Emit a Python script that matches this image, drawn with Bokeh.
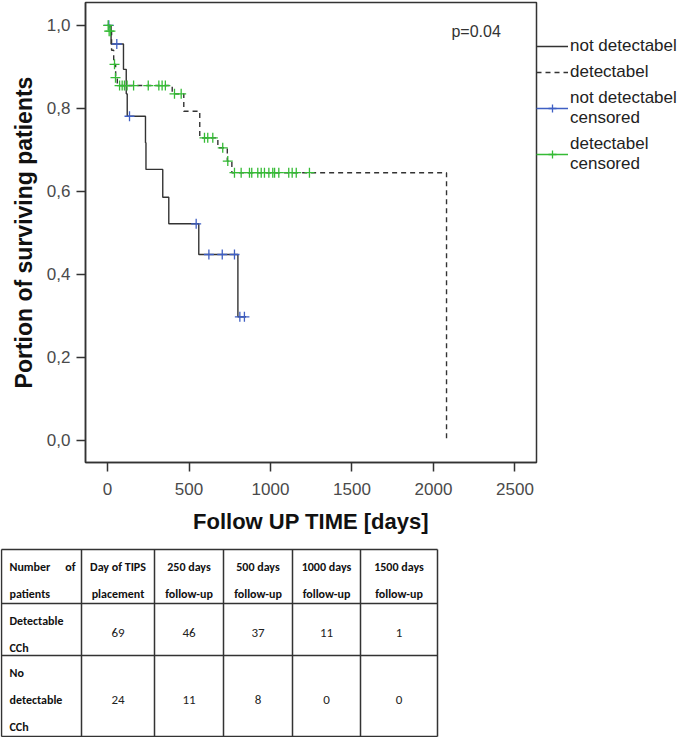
from bokeh.plotting import figure
from bokeh.models import (Range1d, FixedTicker, CustomJSTickFormatter, Legend,
                          LegendItem, Label)
from bokeh.embed import file_html
from bokeh.resources import INLINE
from bokeh.core.properties import value

# ---------------- data ----------------
# Kaplan-Meier, CCh not detectable (solid)
nd_time = [0, 22, 98, 115, 121, 233, 236, 339, 376, 560, 800, 850]
nd_surv = [1.0, 0.955, 0.894, 0.835, 0.781, 0.717, 0.653, 0.586, 0.522, 0.448, 0.298, 0.298]
nd_cens_time = [8, 57, 135, 544, 622, 704, 779, 812, 840]
nd_cens_surv = [1.0, 0.955, 0.781, 0.522, 0.448, 0.448, 0.448, 0.298, 0.298]

# Kaplan-Meier, CCh detectable (dashed)
d_time = [0, 15, 25, 38, 50, 60, 397, 468, 566, 677, 735, 763, 2080]
d_surv = [1.0, 0.986, 0.94, 0.906, 0.874, 0.855, 0.835, 0.793, 0.729, 0.705, 0.673, 0.645, 0.0]
d_cens_time = [4, 10, 18, 43, 49, 74, 90, 104, 120, 160, 250, 315, 335, 355,
               411, 452, 595, 615, 646, 707, 738,
               779, 820, 871, 885, 922, 943, 963, 990, 1014, 1025, 1051, 1112, 1133, 1158, 1239]
d_cens_surv = [1.0, 0.986, 0.986, 0.906, 0.874, 0.855, 0.855, 0.855, 0.855, 0.855, 0.855, 0.855, 0.855, 0.855,
               0.835, 0.835, 0.729, 0.729, 0.729, 0.705, 0.673,
               0.645, 0.645, 0.645, 0.645, 0.645, 0.645, 0.645, 0.645, 0.645, 0.645, 0.645, 0.645, 0.645, 0.645, 0.645]

x_ticks = [0, 500, 1000, 1500, 2000, 2500]
y_ticks = [0.0, 0.2, 0.4, 0.6, 0.8, 1.0]
p_value_text = "p=0.04"

legend_labels = ["not detectabel", "detectabel", "not detectabel\ncensored", "detectabel\ncensored"]

# table
table_header_1 = ["Number", "Day of TIPS", "250 days", "500 days", "1000 days", "1500 days"]
table_header_2 = ["patients", "placement", "follow-up", "follow-up", "follow-up", "follow-up"]
table_header_of = "of"
row1_label = ["Detectable", "CCh"]
row2_label = ["No", "detectable", "CCh"]
detectable_counts = [69, 46, 37, 11, 1]
no_detectable_counts = [24, 11, 8, 0, 0]

# ---------------- styles ----------------
FONT = "Liberation Sans, Arial, sans-serif"
TFONT = "Carlito, Lato, sans-serif"
BLUE = "#3f5fc4"
GREEN = "#35bb35"
DARK = "#333333"

FRAME_W, FRAME_H = 451, 460

# ---------------- KM plot ----------------
p = figure(frame_width=FRAME_W, frame_height=FRAME_H, output_backend="svg", toolbar_location=None,
           x_range=Range1d(-135, 2632), y_range=Range1d(-0.053, 1.055),
           min_border_left=85, min_border_right=148, min_border_top=2, min_border_bottom=80)
p.xgrid.visible = False
p.ygrid.visible = False
p.outline_line_color = DARK
p.outline_line_width = 1.5
p.background_fill_color = "white"
p.border_fill_color = "white"

for ax in (p.xaxis[0], p.yaxis[0]):
    ax.axis_line_color = DARK
    ax.axis_line_width = 1.5
    ax.major_tick_line_color = DARK
    ax.major_tick_line_width = 1.5
    ax.major_tick_out = 9
    ax.major_tick_in = 0
    ax.minor_tick_line_color = None
    ax.major_label_text_font = FONT
    ax.major_label_text_font_size = "17px"
    ax.major_label_text_color = "#4a4a4a"
    ax.axis_label_text_font = FONT
    ax.axis_label_text_font_style = "bold"
    ax.axis_label_text_color = "#111111"

p.xaxis.axis_label_text_font_size = "22px"
p.yaxis.axis_label_text_font_size = "23px"
p.xaxis.ticker = FixedTicker(ticks=x_ticks)
p.yaxis.ticker = FixedTicker(ticks=y_ticks)
p.yaxis.formatter = CustomJSTickFormatter(code="return tick.toFixed(1).replace('.', ',');")
p.xaxis.axis_label = "Follow UP TIME [days]"
p.yaxis.axis_label = "Portion of surviving patients"
p.xaxis.major_label_standoff = 11
p.xaxis.axis_label_standoff = 11
p.yaxis.major_label_standoff = 6
p.yaxis.axis_label_standoff = 7

r_nd = p.step(nd_time, nd_surv, mode="after", line_color=DARK, line_width=1.4)
r_d = p.step(d_time, d_surv, mode="after", line_color=DARK, line_width=1.4, line_dash="5 4")
c_nd = p.scatter(nd_cens_time, nd_cens_surv, marker="cross", size=10,
                 line_color=BLUE, line_width=1.3)
c_d = p.scatter(d_cens_time, d_cens_surv, marker="cross", size=10,
                line_color=GREEN, line_width=1.3)
# zero-length lines (invisible in the plot) that give the legend its coloured line
l_nd = p.line(x=[nd_cens_time[0]] * 2, y=[nd_cens_surv[0]] * 2, line_color=BLUE, line_width=1.3)
l_d = p.line(x=[d_cens_time[0]] * 2, y=[d_cens_surv[0]] * 2, line_color=GREEN, line_width=1.3)

p.add_layout(Label(x=2110, y=0.985, text=p_value_text, text_font=FONT,
                   text_font_size="16px", text_color=DARK, text_baseline="middle"))

legend = Legend(items=[
    LegendItem(label=legend_labels[0], renderers=[r_nd]),
    LegendItem(label=legend_labels[1], renderers=[r_d]),
    LegendItem(label=legend_labels[2], renderers=[l_nd, c_nd]),
    LegendItem(label=legend_labels[3], renderers=[l_d, c_d]),
], location="top_left")
legend.title = " "
legend.title_text_font_size = "17px"
legend.title_standoff = 14
legend.border_line_color = None
legend.background_fill_alpha = 0
legend.padding = 0
legend.margin = 0
legend.spacing = 6
legend.glyph_width = 32
legend.glyph_height = 20
legend.label_standoff = 2
legend.label_text_font = FONT
legend.label_text_font_size = "17px"
legend.label_text_line_height = 1.0
legend.label_text_color = "#222222"
p.add_layout(legend, "right")

# ---------------- table ----------------
col_w = [80, 73, 69, 69, 68, 77]
row_h = [54, 52, 81]
TW, TH = 460, 195
x0, y0 = 1, 7
line_gap = 27
first_line = 17

t = figure(width=TW, height=TH, output_backend="svg", toolbar_location=None,
           x_range=Range1d(0, TW), y_range=Range1d(TH, 0),
           min_border=0, min_border_left=0, min_border_right=0,
           min_border_top=0, min_border_bottom=0)
t.axis.visible = False
t.xgrid.visible = False
t.ygrid.visible = False
t.outline_line_color = None

col_edges = [x0]
for w in col_w:
    col_edges.append(col_edges[-1] + w)
row_edges = [y0]
for h in row_h:
    row_edges.append(row_edges[-1] + h)

t.segment(x0=col_edges, y0=[row_edges[0]] * len(col_edges),
          x1=col_edges, y1=[row_edges[-1]] * len(col_edges),
          line_color=DARK, line_width=1.5)
t.segment(x0=[col_edges[0]] * len(row_edges), y0=row_edges,
          x1=[col_edges[-1]] * len(row_edges), y1=row_edges,
          line_color=DARK, line_width=1.5)

centers = [(col_edges[i] + col_edges[i + 1]) / 2 for i in range(len(col_w))]
hdr_y1 = row_edges[0] + first_line
hdr_y2 = hdr_y1 + line_gap

bold = dict(text_baseline="middle", text_font=value(TFONT), text_font_size="12px",
            text_font_style="bold", text_color="#111111")
t.text(x=centers[1:], y=[hdr_y1] * 5, text=table_header_1[1:], text_align="center", **bold)
t.text(x=centers[1:], y=[hdr_y2] * 5, text=table_header_2[1:], text_align="center", **bold)
t.text(x=[col_edges[0] + 8, col_edges[0] + 8], y=[hdr_y1, hdr_y2],
       text=[table_header_1[0], table_header_2[0]], text_align="left", **bold)
t.text(x=[col_edges[1] - 6], y=[hdr_y1], text=[table_header_of], text_align="right", **bold)

r1y = [row_edges[1] + first_line + i * line_gap for i in range(len(row1_label))]
r2y = [row_edges[2] + first_line + i * line_gap for i in range(len(row2_label))]
t.text(x=[col_edges[0] + 8] * len(r1y + r2y), y=r1y + r2y, text=row1_label + row2_label,
       text_align="left", **bold)

ry1 = (row_edges[1] + row_edges[2]) / 2 + 3
ry2 = r2y[1]
reg = dict(text_align="center", text_baseline="middle", text_font=value(TFONT),
           text_font_size="13px", text_color="#222222")
t.text(x=centers[1:], y=[ry1] * 5, text=[str(v) for v in detectable_counts], **reg)
t.text(x=centers[1:], y=[ry2] * 5, text=[str(v) for v in no_detectable_counts], **reg)

open("out.html", "w").write(file_html([p, t], INLINE))
